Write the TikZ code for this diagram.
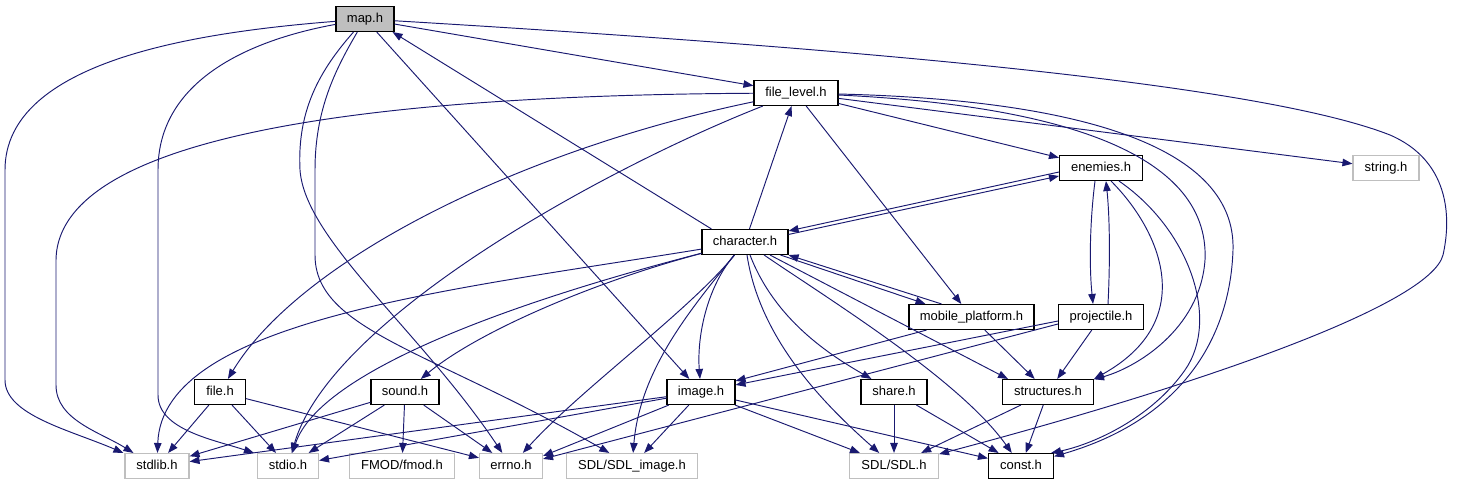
\documentclass[tikz,border=0pt]{standalone}
\usepackage{fontspec}
\setmainfont{Liberation Sans}
\usetikzlibrary{arrows.meta}
\definecolor{edgecol}{HTML}{191970}
\definecolor{extgrey}{HTML}{BFBFBF}
\begin{document}
\begin{tikzpicture}[x=1pt,y=-1pt,
  inc/.style={draw=black, fill=white, line width=1.1pt, minimum height=25pt, inner sep=0pt,
    text height=9.5pt, text depth=2.8pt, font=\fontsize{13}{15}\selectfont},
  sys/.style={inc, draw=extgrey},
  cur/.style={fill=extgrey},
  dep/.style={draw=edgecol, line width=0.95pt, -{Triangle[length=10pt,width=7.5pt]}}]
\useasboundingbox (0,0) rectangle (1466,485);

% nodes
\node[inc, cur, minimum width=58pt] (map) at (365,19) {map.h};
\node[inc, minimum width=84pt] (fl) at (796,93) {file\_level.h};
\node[sys, minimum width=66pt] (string) at (1386,168) {string.h};
\node[inc, minimum width=83pt] (enemies) at (1101,168) {enemies.h};
\node[inc, minimum width=86pt] (char) at (745,242) {character.h};
\node[inc, minimum width=125pt] (mobile) at (971.5,317) {mobile\_platform.h};
\node[inc, minimum width=85pt] (proj) at (1101,317) {projectile.h};
\node[inc, minimum width=51pt] (file) at (220,392) {file.h};
\node[inc, minimum width=68pt] (sound) at (405,392) {sound.h};
\node[inc, minimum width=68pt] (image) at (701,392) {image.h};
\node[inc, minimum width=66pt] (share) at (894,392) {share.h};
\node[inc, minimum width=91pt] (struct) at (1048,392) {structures.h};
\node[sys, minimum width=64pt] (stdlib) at (157,466) {stdlib.h};
\node[sys, minimum width=61pt] (stdio) at (288,466) {stdio.h};
\node[sys, minimum width=105pt] (fmod) at (402,466) {FMOD/fmod.h};
\node[sys, minimum width=63pt] (errno) at (511,466) {errno.h};
\node[sys, minimum width=131pt] (sdlimg) at (632,466) {SDL/SDL\_image.h};
\node[sys, minimum width=89pt] (sdl) at (894,466) {SDL/SDL.h};
\node[inc, minimum width=65pt] (const) at (1021,466) {const.h};

% map.h
\draw[dep] (map) .. controls (200,32) and (5,60) .. (5,170) -- (5,380) .. controls (5,415) and (70,430) .. ([xshift=-1pt]stdlib.north west);
\draw[dep] (map) .. controls (250,40) and (158,80) .. (158,170) -- (158,395) .. controls (158,430) and (215,440) .. ([xshift=-3pt]stdio.north west);
\draw[dep] (map) .. controls (320,70) and (297,110) .. (300,170) .. controls (305,240) and (420,330) .. (errno);
\draw[dep] (map) .. controls (335,70) and (315,110) .. (315,170) -- (315,255) .. controls (315,330) and (430,350) .. (sdlimg);
\draw[dep] (map) -- (image);
\draw[dep] (map) -- (fl);
\draw[dep] (map) .. controls (800,45) and (1250,80) .. (1390,135) .. controls (1448,160) and (1452,215) .. (1443,255) .. controls (1430,305) and (1200,385) .. (sdl);

% file_level.h
\draw[dep] (fl) .. controls (450,95) and (58,120) .. (56,260) -- (56,385) .. controls (56,420) and (100,432) .. ([xshift=9pt]stdlib.north west);
\draw[dep] (fl) .. controls (600,170) and (330,320) .. (stdio);
\draw[dep] (fl) .. controls (520,150) and (300,260) .. (file);
\draw[dep] (fl) -- (mobile);
\draw[dep] (fl) -- (enemies);
\draw[dep] (fl) -- (string);
\draw[dep] (fl) .. controls (1050,105) and (1210,150) .. (1205,260) .. controls (1200,330) and (1135,368) .. (struct);
\draw[dep] (fl) .. controls (1090,100) and (1236,150) .. (1233,250) .. controls (1230,340) and (1180,420) .. (const);

% enemies.h
\draw[dep] ([yshift=-4pt]enemies.west) -- ([yshift=-2pt]char.north east);
\draw[dep] ([xshift=-6pt]enemies.south) .. controls (1090,220) and (1089,265) .. ([xshift=-8pt]proj.north);
\draw[dep] ([xshift=10pt]enemies.south) .. controls (1160,230) and (1200,320) .. (struct.north east);
\draw[dep] ([xshift=18pt]enemies.south) .. controls (1190,230) and (1220,320) .. (1185,370) .. controls (1150,420) and (1090,445) .. ([xshift=-3pt]const.north east);

% character.h
\draw[dep] ([xshift=10pt]char.north west) -- ([xshift=-2pt]map.south east);
\draw[dep] (char) -- (fl);
\draw[dep] ([yshift=-5.5pt]char.north east) -- ([yshift=-8pt]enemies.west);
\draw[dep] ([xshift=-8pt]char.south east) -- ([xshift=-46pt]mobile.north);
\draw[dep] (char) .. controls (450,290) and (162,320) .. (stdlib);
\draw[dep] (char) .. controls (520,300) and (320,370) .. (stdio);
\draw[dep] (char) .. controls (600,280) and (480,330) .. (sound);
\draw[dep] (char) .. controls (705,290) and (697,340) .. (image);
\draw[dep] (char) .. controls (690,310) and (580,390) .. (errno);
\draw[dep] (char) .. controls (690,310) and (640,370) .. (sdlimg);
\draw[dep] (char) .. controls (775,320) and (830,355) .. (share);
\draw[dep] (char) .. controls (760,340) and (825,405) .. (sdl);
\draw[dep] (char) .. controls (830,300) and (960,380) .. (const);
\draw[dep] (char) -- ([xshift=-40pt]struct.north);

% mobile_platform.h
\draw[dep] ([xshift=-30pt]mobile.north) -- (char.south east);
\draw[dep] ([xshift=-45pt]mobile.south) -- ([yshift=-2pt]image.north east);
\draw[dep] (mobile) -- (struct);

% projectile.h
\draw[dep] ([xshift=7pt]proj.north) .. controls (1110,265) and (1110,220) .. ([xshift=5pt]enemies.south);
\draw[dep] ([yshift=-4pt]proj.west) -- ([yshift=-6pt]image.north east);
\draw[dep] ([yshift=-7pt]proj.west) -- ([yshift=-6pt]errno.north east);
\draw[dep] (proj) -- (struct);

% image.h
\draw[dep] (image) -- (stdlib);
\draw[dep] (image) -- (stdio);
\draw[dep] (image) -- ([yshift=-3pt]errno.north east);
\draw[dep] (image) -- (sdlimg);
\draw[dep] (image) -- (sdl);
\draw[dep] (image) -- (const);

% file.h
\draw[dep] (file) -- (stdlib);
\draw[dep] (file) -- (stdio);
\draw[dep] (file) -- (errno);

% sound.h
\draw[dep] (sound) -- (stdlib);
\draw[dep] (sound) -- (stdio);
\draw[dep] (sound) -- (fmod);
\draw[dep] (sound) -- (errno);

% share.h, structures.h
\draw[dep] (share) -- (sdl);
\draw[dep] (share) -- (const);
\draw[dep] (struct) -- (sdl);
\draw[dep] (struct) -- (const);
\end{tikzpicture}
\end{document}
